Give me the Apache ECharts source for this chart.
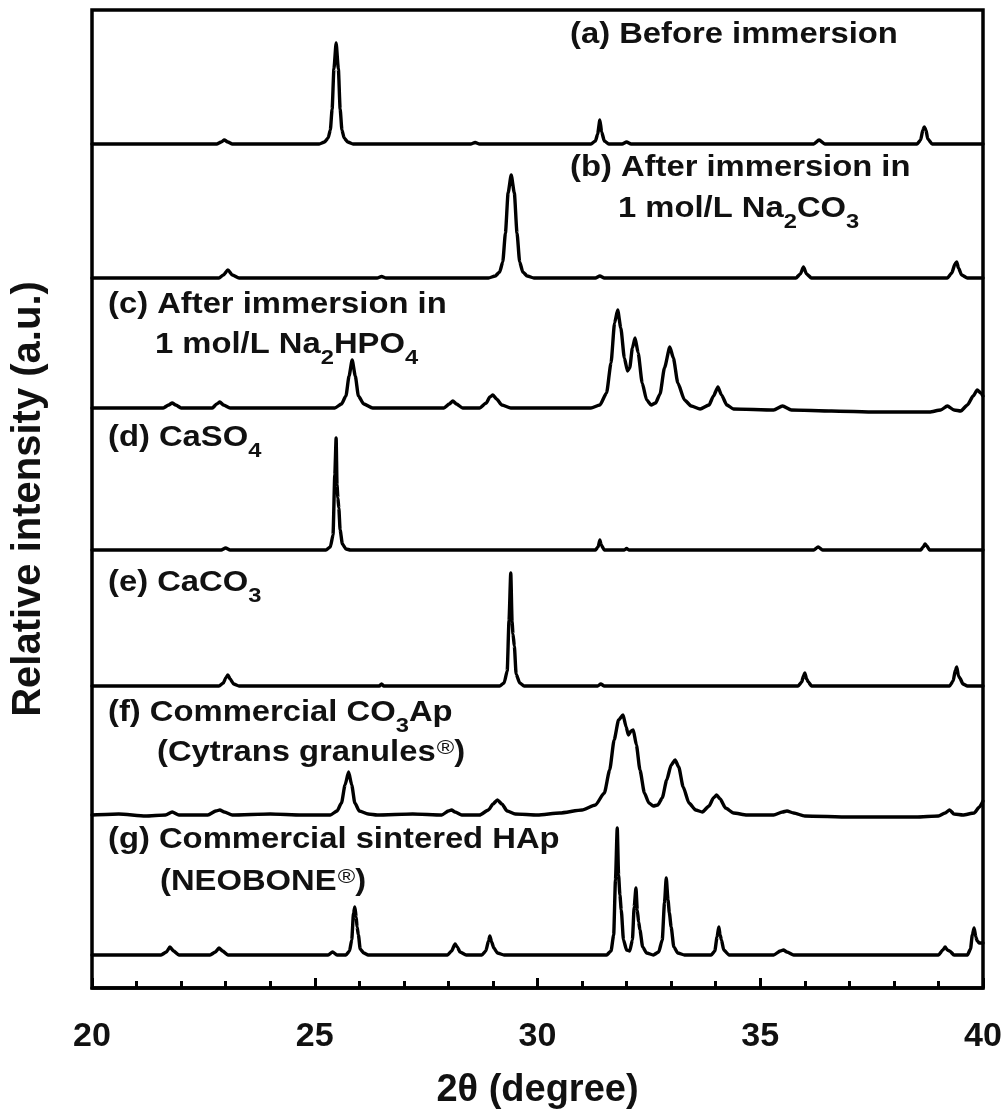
<!DOCTYPE html>
<html>
<head>
<meta charset="utf-8">
<script src="https://cdn.jsdelivr.net/npm/echarts@6/dist/echarts.min.js"></script>
<style>
html,body{margin:0;padding:0;background:#fff;}
#chart{width:1008px;height:1116px;}
</style>
</head>
<body>
<div id="chart"></div>
<script>
// 2θ (degree) vs relative intensity (a.u.); each pattern is [2θ, intensity above its own baseline]
const patternA = [[20,0],[22.8,0],[22.9,2],[22.97,4],[23.05,2],[23.15,0],
  [25.1,0],[25.22,2],[25.3,6],[25.35,14],[25.39,35],[25.43,75],[25.48,101],[25.53,75],[25.57,35],[25.61,14],[25.66,6],[25.74,2],[25.86,0],
  [28.5,0],[28.6,1.5],[28.7,0],
  [31.2,0],[31.3,3],[31.35,10],[31.4,24],[31.44,12],[31.5,3],[31.6,0],
  [31.9,0],[32.0,2],[32.1,0],
  [36.2,0],[36.32,4],[36.45,0],
  [38.52,0],[38.6,4],[38.65,14],[38.68,17],[38.72,14],[38.76,5],[38.86,0],[40,0]];
const patternB = [[20,0],[22.85,0],[22.95,3],[23.05,8],[23.15,3],[23.3,0],
  [26.4,0],[26.5,1.5],[26.6,0],
  [28.9,0],[29.05,2],[29.15,6],[29.22,16],[29.28,45],[29.34,85],[29.41,103],[29.48,85],[29.54,45],[29.6,16],[29.67,6],[29.77,2],[29.92,0],
  [31.3,0],[31.4,2],[31.5,0],
  [35.8,0],[35.9,4],[35.97,11],[36.04,4],[36.15,0],
  [39.2,0],[39.3,5],[39.37,14],[39.41,16],[39.45,10],[39.52,3],[39.65,0],[40,0]];
const patternC = [[20,0],[21.6,0],[21.72,3],[21.8,5],[21.88,3],[22.0,0],
  [22.7,0],[22.8,4],[22.87,6],[22.95,3],[23.1,0],
  [25.45,0],[25.6,4],[25.7,12],[25.77,32],[25.84,48],[25.91,32],[25.98,12],[26.1,4],[26.3,0],
  [27.9,0],[28.02,4],[28.1,7],[28.18,4],[28.32,0],
  [28.7,0],[28.85,5],[28.93,11],[29.0,13],[29.08,9],[29.2,3],[29.4,0],
  [31.2,0],[31.4,3],[31.55,15],[31.65,45],[31.73,85],[31.8,98],[31.87,80],[31.95,50],[32.02,37],[32.07,40],[32.13,60],[32.19,70],[32.26,55],[32.35,25],[32.45,8],[32.55,3],[32.65,5],[32.75,14],[32.85,40],[32.97,61],[33.05,50],[33.15,25],[33.3,8],[33.45,2],[33.65,-1],
  [33.85,3],[33.95,12],[34.05,21],[34.13,13],[34.25,3],[34.4,-1],[35.3,-2],[35.5,2],[35.7,-2],[36.6,-3],[37.6,-4],
  [38.8,-4],[39.05,-2],[39.2,2],[39.35,-2],[39.5,-3],[39.65,3],[39.78,12],[39.87,18],[39.95,15],[40,12]];
const patternD = [[20,0],[22.9,0],[23.0,2],[23.1,0],
  [25.25,0],[25.35,3],[25.41,15],[25.45,75],[25.48,112],[25.5,65],[25.52,52],[25.54,42],[25.57,20],[25.62,6],[25.7,1],[25.8,0],
  [31.3,0],[31.36,3],[31.4,10],[31.43,5],[31.5,0],
  [31.95,0],[32.0,1.5],[32.05,0],
  [36.2,0],[36.3,3],[36.4,0],
  [38.6,0],[38.66,3],[38.7,6],[38.74,4],[38.8,0],[40,0]];
const patternE = [[20,0],[22.85,0],[22.95,3],[23.0,8],[23.05,11],[23.1,7],[23.18,2],[23.3,0],
  [26.45,0],[26.5,2],[26.55,0],
  [29.15,0],[29.25,3],[29.32,15],[29.36,65],[29.4,113],[29.43,64],[29.45,52],[29.48,40],[29.52,12],[29.6,3],[29.7,0],
  [31.35,0],[31.42,2],[31.5,0],
  [35.85,0],[35.93,4],[35.97,10],[36.0,13],[36.04,7],[36.08,4],[36.15,0],
  [39.25,0],[39.33,5],[39.38,16],[39.41,19],[39.45,10],[39.48,8],[39.55,2],[39.65,0],[40,0]];
const patternF = [[20,0],[20.6,1],[21.2,-1],[21.65,0],[21.8,3],[21.95,0],
  [22.6,0],[22.78,4],[22.87,5],[22.97,3],[23.15,0],[24.0,1],[24.7,0],
  [25.35,0],[25.5,4],[25.6,12],[25.68,30],[25.76,43],[25.83,30],[25.9,12],[26.0,4],[26.2,1],[26.4,0],[27.2,1],
  [27.85,0],[28.0,4],[28.07,5],[28.15,3],[28.3,0],
  [28.7,0],[28.9,5],[29.0,11],[29.1,15],[29.2,11],[29.32,4],[29.5,1],
  [30.0,0],[30.5,2],[31.0,5],[31.3,10],[31.5,22],[31.62,45],[31.72,75],[31.82,95],[31.92,100],[31.99,88],[32.04,80],[32.1,84],[32.15,85],[32.22,70],[32.3,45],[32.4,22],[32.5,12],[32.6,9],[32.7,10],[32.8,17],[32.9,35],[33.0,50],[33.09,55],[33.17,48],[33.27,28],[33.4,12],[33.55,5],[33.7,3],
  [33.85,9],[33.95,17],[34.02,20],[34.1,16],[34.22,7],[34.4,2],[34.7,0],
  [35.3,0],[35.5,3],[35.6,4],[35.75,2],[36.0,-1],[37.0,-2],[38.5,-2],[39.0,-1],
  [39.15,2],[39.25,5],[39.35,1],[39.55,0],[39.8,2],[39.92,8],[40,14]];
const patternG = [[20,0],[21.55,0],[21.67,3],[21.75,8],[21.83,4],[21.95,0],
  [22.65,0],[22.77,3],[22.85,7],[22.93,4],[23.05,0],
  [25.3,0],[25.4,3],[25.5,0],
  [25.7,0],[25.78,4],[25.83,15],[25.87,42],[25.9,48],[25.93,38],[25.95,28],[25.98,20],[26.02,6],[26.1,2],[26.2,0],
  [27.98,0],[28.07,4],[28.15,11],[28.2,8],[28.26,3],[28.4,0],
  [28.75,0],[28.84,4],[28.9,14],[28.93,19],[28.97,13],[29.02,7],[29.1,2],[29.25,0],
  [31.55,0],[31.65,4],[31.71,20],[31.75,75],[31.79,127],[31.82,80],[31.85,60],[31.88,45],[31.93,15],[32.0,5],[32.07,4],[32.13,15],[32.17,48],[32.21,67],[32.24,45],[32.27,33],[32.3,25],[32.36,8],[32.45,2],[32.6,0],
  [32.72,3],[32.8,15],[32.85,52],[32.89,77],[32.93,55],[32.96,42],[33.0,28],[33.06,8],[33.15,2],[33.3,0],
  [33.9,0],[33.98,4],[34.03,18],[34.07,28],[34.1,20],[34.13,15],[34.18,5],[34.3,0],
  [35.3,0],[35.45,4],[35.52,5],[35.6,3],[35.75,0],
  [39.0,0],[39.1,5],[39.15,8],[39.2,5],[39.25,4],[39.35,0],
  [39.65,0],[39.72,6],[39.76,20],[39.8,27],[39.84,18],[39.87,14],[39.92,12],[40,12]];

const patterns = [patternA, patternB, patternC, patternD, patternE, patternF, patternG];
const offsets = [844, 710, 580, 438, 302, 173, 33]; // vertical stacking offset of each pattern
const xTicks = [20, 25, 30, 35, 40];
const xTitle = '2θ (degree)';
const yTitle = 'Relative intensity (a.u.)';

const FONT = '"Liberation Sans", Arial, Helvetica, sans-serif';
const labels = [
  {t: '(a) Before immersion', x: 570, y: 35},
  {t: '(b) After immersion in', x: 570, y: 168},
  {t: '1 mol/L Na{s|2}CO{s|3}', x: 618, y: 209},
  {t: '(c) After immersion in', x: 108, y: 305},
  {t: '1 mol/L Na{s|2}HPO{s|4}', x: 155, y: 345},
  {t: '(d) CaSO{s|4}', x: 108, y: 438},
  {t: '(e) CaCO{s|3}', x: 108, y: 583},
  {t: '(f) Commercial CO{s|3}Ap', x: 108, y: 713},
  {t: '(Cytrans granules{r|®})', x: 157, y: 753},
  {t: '(g) Commercial sintered HAp', x: 108, y: 840},
  {t: '(NEOBONE{r|®})', x: 160, y: 882}
];

const chart = echarts.init(document.getElementById('chart'), null, {renderer: 'canvas'});
const series = patterns.map((p, i) => ({
  type: 'line',
  data: p.map(d => [d[0], d[1] + offsets[i]]),
  symbol: 'none',
  showSymbol: false,
  smooth: 0.2,
  smoothMonotone: 'x',
  clip: true,
  lineStyle: {color: '#000', width: 3.4, join: 'round', cap: 'round'},
  emphasis: {disabled: true},
  animation: false
}));

const graphics = labels.map(l => ({
  type: 'text',
  x: l.x,
  y: l.y,
  scaleX: 1.13,
  scaleY: 1,
  z: 10,
  style: {
    text: l.t,
    fontSize: 29,
    fontWeight: 'bold',
    fontFamily: FONT,
    fill: '#111',
    lineHeight: 47,
    align: 'left',
    verticalAlign: 'middle',
    textAlign: 'left',
    textVerticalAlign: 'middle',
    rich: {
      s: {fontSize: 21, fontWeight: 'bold', fontFamily: FONT, fill: '#111', color: '#111', lineHeight: 21, verticalAlign: 'bottom'},
      r: {fontSize: 21, fontWeight: 'normal', fontFamily: FONT, fill: '#111', color: '#111', lineHeight: 21, verticalAlign: 'top', padding: [8, 0, 0, 1]}
    }
  }
}));

chart.setOption({
  animation: false,
  backgroundColor: '#fff',
  grid: {left: 92, right: 25, top: 10, bottom: 128, show: true, borderColor: '#000', borderWidth: 3.5, backgroundColor: 'transparent'},
  xAxis: {
    type: 'value', min: xTicks[0], max: xTicks[xTicks.length - 1], interval: 5,
    axisLine: {show: true, lineStyle: {color: '#000', width: 3.5}},
    axisTick: {show: true, inside: true, length: 10, lineStyle: {color: '#000', width: 3}},
    minorTick: {show: true, splitNumber: 5, length: 7, lineStyle: {color: '#000', width: 3}},
    splitLine: {show: false},
    minorSplitLine: {show: false},
    axisLabel: {fontSize: 34, fontWeight: 'bold', fontFamily: FONT, color: '#111', margin: 32},
    name: xTitle, nameLocation: 'middle', nameGap: 84,
    nameTextStyle: {fontSize: 38, fontWeight: 'bold', fontFamily: FONT, color: '#111'}
  },
  yAxis: {
    type: 'value', min: 0, max: 978,
    axisLine: {show: false}, axisTick: {show: false}, axisLabel: {show: false}, splitLine: {show: false},
    name: yTitle, nameLocation: 'middle', nameRotate: 90, nameGap: 43,
    nameTextStyle: {fontSize: 40, fontWeight: 'bold', fontFamily: FONT, color: '#111'}
  },
  series: series,
  graphic: graphics
});
</script>
</body>
</html>
